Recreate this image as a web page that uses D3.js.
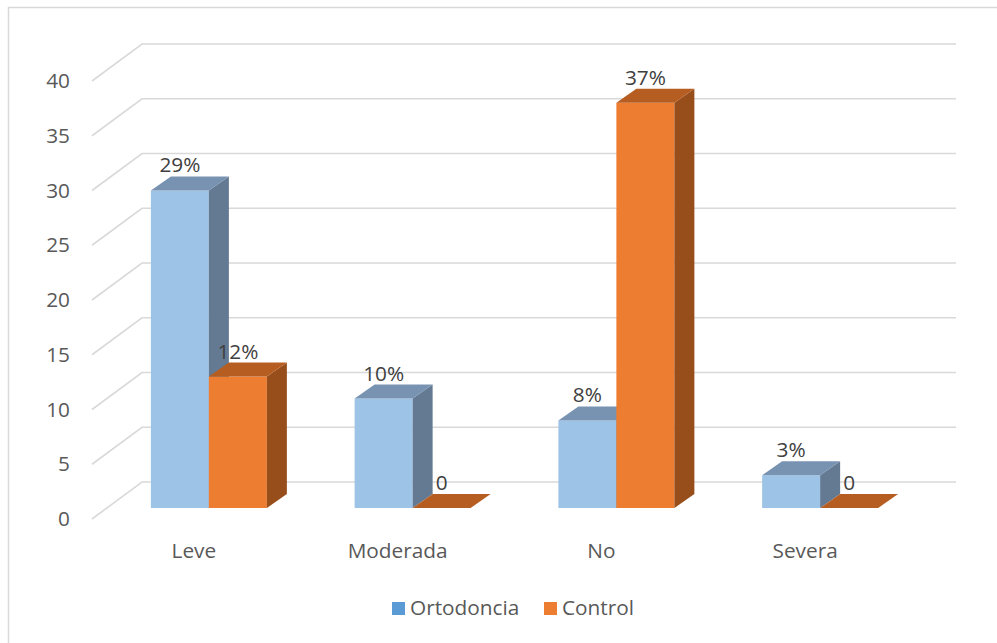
<!DOCTYPE html>
<html>
<head>
<meta charset="utf-8">
<script src="https://cdnjs.cloudflare.com/ajax/libs/d3/7.8.5/d3.min.js"></script>
<style>
  body { margin: 0; background: #fff; }
  text { font-family: "Open Sans", sans-serif; }
</style>
</head>
<body>
<div id="chart"></div>
<script>
const categories = ["Leve", "Moderada", "No", "Severa"];
const seriesNames = ["Ortodoncia", "Control"];
const ortodoncia = [29, 10, 8, 3];
const control = [12, 0, 37, 0];
const ortodonciaLabels = ["29%", "10%", "8%", "3%"];
const controlLabels = ["12%", "0", "37%", "0"];
const yTicks = [0, 5, 10, 15, 20, 25, 30, 35, 40];

const W = 997, H = 643;
const fs = 20.8;
const svg = d3.select("#chart").append("svg")
  .attr("width", W).attr("height", H);

// chart border (runs off right/bottom edge)
svg.append("rect")
  .attr("x", 8.5).attr("y", 7.5)
  .attr("width", 1000).attr("height", 700)
  .attr("fill", "none").attr("stroke", "#d9d9d9").attr("stroke-width", 1.5);

// back wall scale; front edge and bar plane are offsets of it
const yBack = d3.scaleLinear().domain([0, 40]).range([482, 44]);
const front = {dx: -50, dy: 37};
const barOff = 26;            // bar base below back wall
const depth = {dx: 20, dy: -14};
const backLeft = 142, backRight = 956;

const x = d3.scaleBand().domain(categories).range([107, 922]);
const xs = d3.scaleBand().domain(seriesNames).range([0, 116]);

const colors = {
  Ortodoncia: {front: "#9dc3e6", top: "#7893b2", side: "#637a92"},
  Control: {front: "#ed7d31", top: "#b65e22", side: "#984e1b"}
};

// gridlines
const grid = svg.append("g");
yTicks.forEach(function(t) {
  const yb = yBack(t);
  grid.append("path")
    .attr("d", "M" + (backLeft + front.dx) + "," + (yb + front.dy) +
      "L" + backLeft + "," + yb + "L" + backRight + "," + yb)
    .attr("fill", "none").attr("stroke", "#d9d9d9").attr("stroke-width", 1.6);
});

// y labels
svg.append("g").selectAll("text")
  .data(yTicks).enter().append("text")
  .attr("x", 70)
  .attr("y", function(d) { return yBack(d) + front.dy + 7; })
  .attr("text-anchor", "end")
  .attr("font-size", fs)
  .attr("fill", "#595959")
  .text(function(d) { return d; });

// bars
const data = [];
categories.forEach(function(c, i) {
  data.push({cat: c, s: "Ortodoncia", v: ortodoncia[i], label: ortodonciaLabels[i]});
  data.push({cat: c, s: "Control", v: control[i], label: controlLabels[i]});
});

const bars = svg.append("g");
data.forEach(function(d) {
  const x0 = x(d.cat) + x.bandwidth() / 2 - 58 + xs(d.s);
  const x1 = x0 + xs.bandwidth();
  const yb = yBack(0) + barOff;
  const yt = yBack(d.v) + barOff;
  const col = colors[d.s];
  const g = bars.append("g");
  if (d.v > 0) {
    g.append("path")
      .attr("d", "M" + x0 + "," + yt + "L" + x1 + "," + yt + "L" + x1 + "," + yb + "L" + x0 + "," + yb + "Z")
      .attr("fill", col.front);
    g.append("path")
      .attr("d", "M" + x1 + "," + yt + "L" + (x1 + depth.dx) + "," + (yt + depth.dy) +
        "L" + (x1 + depth.dx) + "," + (yb + depth.dy) + "L" + x1 + "," + yb + "Z")
      .attr("fill", col.side);
  }
  g.append("path")
    .attr("d", "M" + x0 + "," + yt + "L" + x1 + "," + yt +
      "L" + (x1 + depth.dx) + "," + (yt + depth.dy) + "L" + (x0 + depth.dx) + "," + (yt + depth.dy) + "Z")
    .attr("fill", col.top);
  g.append("text")
    .attr("x", (x0 + x1) / 2)
    .attr("y", yt + depth.dy - 4)
    .attr("text-anchor", "middle")
    .attr("font-size", fs)
    .attr("fill", "#404040")
    .text(d.label);
});

// category labels
svg.append("g").selectAll("text")
  .data(categories).enter().append("text")
  .attr("x", function(d) { return x(d) + x.bandwidth() / 2 - 15; })
  .attr("y", 558)
  .attr("text-anchor", "middle")
  .attr("font-size", fs)
  .attr("fill", "#595959")
  .text(function(d) { return d; });

// legend
const legend = svg.append("g");
const legendX = [392, 544];
seriesNames.forEach(function(s, i) {
  legend.append("rect")
    .attr("x", legendX[i]).attr("y", 602)
    .attr("width", 13).attr("height", 13)
    .attr("fill", i === 0 ? "#5b9bd5" : "#ed7d31");
  legend.append("text")
    .attr("x", legendX[i] + 18).attr("y", 615)
    .attr("font-size", fs)
    .attr("fill", "#595959")
    .text(s);
});
</script>
</body>
</html>
